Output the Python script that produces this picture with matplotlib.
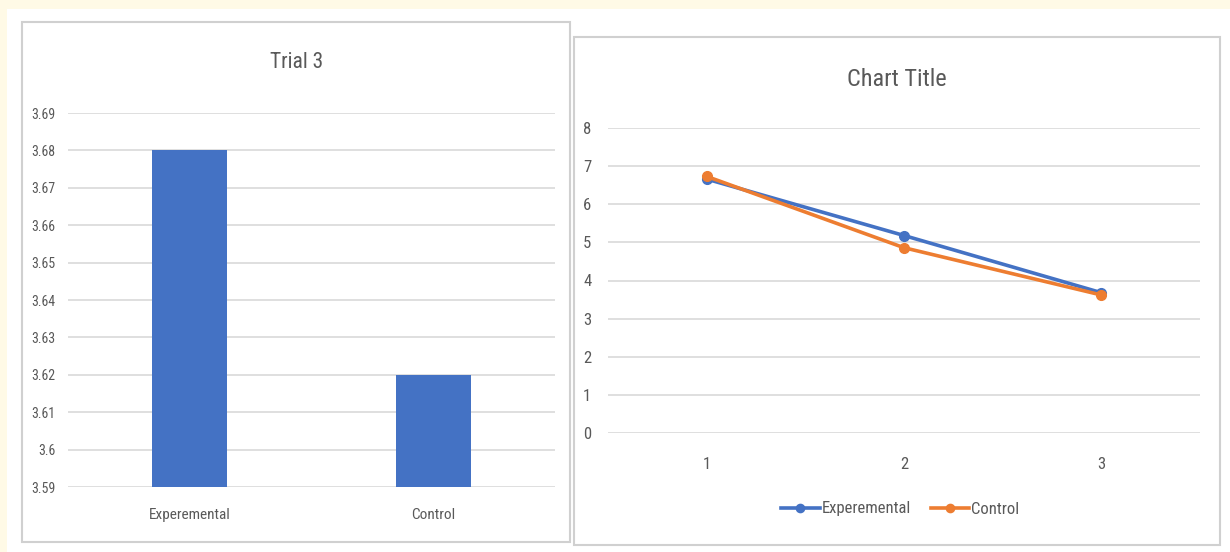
import matplotlib

matplotlib.use("Agg")
import matplotlib.pyplot as plt
from matplotlib import font_manager
from matplotlib.patches import Rectangle

# Trial 3 bar chart
groups = ["Experemental", "Control"]
trial3_means = [3.68, 3.62]
bar_ticks = [3.59, 3.60, 3.61, 3.62, 3.63, 3.64, 3.65, 3.66, 3.67, 3.68, 3.69]
bar_tick_labels = ["3.59", "3.6", "3.61", "3.62", "3.63", "3.64", "3.65", "3.66", "3.67", "3.68", "3.69"]

# Trend across the three trials
trials = ["1", "2", "3"]
experemental = [6.66, 5.18, 3.68]
control = [6.73, 4.86, 3.62]
line_ticks = [0, 1, 2, 3, 4, 5, 6, 7, 8]

W, H = 1230, 552
BLUE = "#4472c4"
ORANGE = "#ed7d31"
GRID = "#d9d9d9"
TEXT = "#595959"

# prefer a condensed face if one is installed
names = {f.name for f in font_manager.fontManager.ttflist}
FONT = next((n for n in ["Liberation Sans Narrow", "Roboto Condensed", "Open Sans Condensed",
                         "DejaVu Sans Condensed", "Open Sans", "Liberation Sans"] if n in names),
            "DejaVu Sans")
plt.rcParams["font.family"] = [FONT, "DejaVu Sans"]


def frac(x0, y0, x1, y1):
    """Pixel box (top-left origin) to figure-fraction [left, bottom, width, height]."""
    return [x0 / W, 1 - y1 / H, (x1 - x0) / W, (y1 - y0) / H]


def panel(box, **kw):
    b = frac(*box)
    fig.patches.append(Rectangle(b[:2], b[2], b[3], transform=fig.transFigure,
                                 zorder=-10, **kw))


fig = plt.figure(figsize=(W / 100, H / 100), dpi=100)
fig.patch.set_facecolor("#fffae6")

# white page and the two chart frames
panel((7, 9, W + 5, H + 5), facecolor="white", edgecolor="none")
panel((22, 22, 570, 542), facecolor="white", edgecolor="#d0d0d0", linewidth=1.5)
panel((574, 37, 1220, 545), facecolor="white", edgecolor="#d0d0d0", linewidth=1.5)


def style(ax):
    ax.set_facecolor("none")
    for s in ax.spines.values():
        s.set_visible(False)
    ax.tick_params(length=0, colors=TEXT)
    ax.grid(axis="y", color=GRID, linewidth=1.2)
    ax.set_axisbelow(True)


# left: bar chart
ax1 = fig.add_axes(frac(68, 113, 555, 487))
style(ax1)
ax1.bar(range(len(groups)), trial3_means, width=0.31, color=BLUE)
ax1.set_xlim(-0.5, 1.5)
ax1.set_ylim(3.59, 3.69)
ax1.set_yticks(bar_ticks, bar_tick_labels, fontsize=10)
ax1.set_xticks(range(len(groups)), groups, fontsize=11)
ax1.tick_params(axis="x", pad=15)
ax1.tick_params(axis="y", pad=9)
fig.text(297 / W, 1 - 62 / H, "Trial 3", ha="center", va="center",
         fontsize=15.5, color=TEXT)

# right: line chart
ax2 = fig.add_axes(frac(608, 128, 1200, 433))
style(ax2)
x = range(1, len(trials) + 1)
ax2.plot(x, experemental, color=BLUE, linewidth=2.6, marker="o", markersize=7,
         label="Experemental")
ax2.plot(x, control, color=ORANGE, linewidth=2.6, marker="o", markersize=7,
         label="Control")
ax2.set_xlim(0.5, 3.5)
ax2.set_ylim(0, 8)
ax2.set_yticks(line_ticks, [str(t) for t in line_ticks], fontsize=12)
ax2.set_xticks(list(x), trials, fontsize=12)
ax2.tick_params(axis="x", pad=17)
ax2.tick_params(axis="y", pad=12)
fig.text(897 / W, 1 - 80 / H, "Chart Title", ha="center", va="center",
         fontsize=17.5, color=TEXT)
leg = fig.legend(*ax2.get_legend_handles_labels(), loc="center",
                 bbox_to_anchor=(900 / W, 1 - 509 / H), ncol=2, frameon=False,
                 fontsize=12, handlelength=2.3, handletextpad=0.1, columnspacing=1.2,
                 markerscale=0.85)
for t in leg.get_texts():
    t.set_color(TEXT)

fig.savefig("out.png", dpi=100, facecolor=fig.get_facecolor())
